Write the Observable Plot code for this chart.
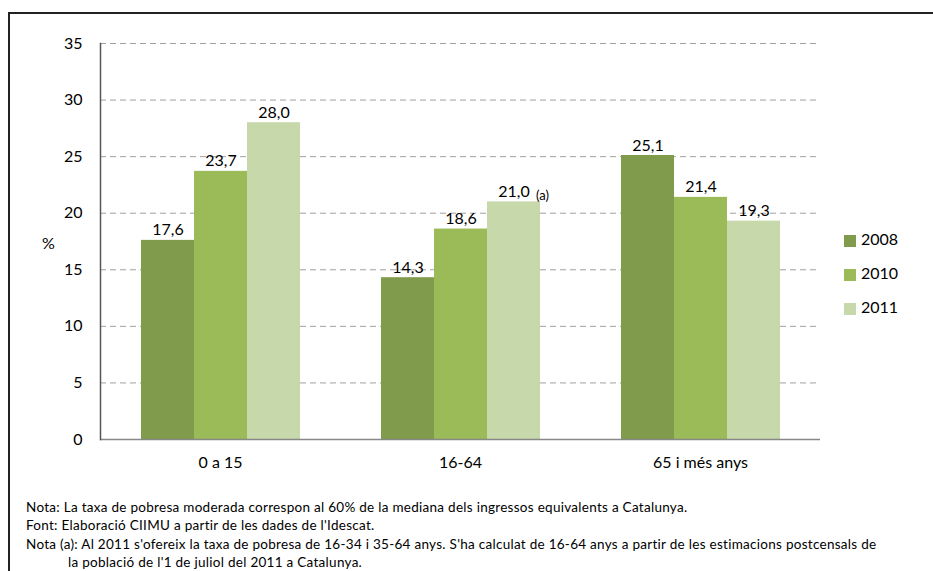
<!DOCTYPE html>
<html><head><meta charset="utf-8">
<script src="https://cdn.jsdelivr.net/npm/d3@7"></script>
<script src="https://cdn.jsdelivr.net/npm/@observablehq/plot@0.6"></script>
<style>
html,body{margin:0;padding:0;background:#fff;overflow:hidden;width:933px;height:571px;font-family:Lato,"Open Sans",sans-serif;}
#frame{position:absolute;left:8px;top:12px;width:1000px;height:700px;border:2px solid #222;box-sizing:border-box;}
#chart{position:absolute;left:0;top:0;}
#ylabel{position:absolute;left:42px;top:233px;font-size:16px;color:#000;}
#legend{position:absolute;left:844px;top:231px;font-size:16px;}
.li{position:relative;height:34px;}
.sw{position:absolute;left:0;top:4px;width:12px;height:12px;}
.lt{position:absolute;left:17px;top:-2px;line-height:20px;}
#notes{position:absolute;left:26px;top:498px;font-size:13.5px;line-height:18.4px;color:#000;letter-spacing:0.28px;white-space:nowrap;}
.ind{padding-left:42px;}
</style></head>
<body>
<div id="frame"></div>
<div id="chart"></div>
<div id="ylabel">%</div>
<div id="legend"></div>
<div id="notes"></div>
<script>
const categories = ["0 a 15", "16-64", "65 i més anys"];
const years = ["2008", "2010", "2011"];
const values2008 = [17.6, 14.3, 25.1];
const values2010 = [23.7, 18.6, 21.4];
const values2011 = [28.0, 21.0, 19.3];
const colors = ["#7f9b4b", "#9bbb59", "#c7d8ab"];
const yTicks = [0, 5, 10, 15, 20, 25, 30, 35];
const footnoteMarks = [{category: "16-64", year: "2011", mark: "(a)"}];
const noteLines = [
  "Nota: La taxa de pobresa moderada correspon al 60% de la mediana dels ingressos equivalents a Catalunya.",
  "Font: Elaboració CIIMU a partir de les dades de l'Idescat.",
  "Nota (a): Al 2011 s'ofereix la taxa de pobresa de 16-34 i 35-64 anys. S'ha calculat de 16-64  anys a partir de les estimacions postcensals de",
  "la població de l'1 de juliol del 2011 a Catalunya."
];

const series = [values2008, values2010, values2011];
const data = [];
categories.forEach((c, i) => years.forEach((y, j) => data.push({category: c, year: y, value: series[j][i]})));
const fmt = v => v.toFixed(1).replace(".", ",");
const fn = footnoteMarks.map(f => ({...f, value: data.find(d => d.category === f.category && d.year === f.year).value}));

const chart = Plot.plot({
  width: 933,
  height: 480,
  marginLeft: 100,
  marginRight: 113,
  marginTop: 43,
  marginBottom: 41,
  style: {fontFamily: "Lato, 'Open Sans', sans-serif", fontSize: "16px", color: "#000", background: "transparent"},
  fx: {domain: categories, padding: 0, label: null, axis: null},
  x: {domain: years, paddingInner: 0, paddingOuter: 0.74, axis: null},
  y: {domain: [0, 35], ticks: yTicks, label: null},
  color: {domain: years, range: colors},
  marks: [
    Plot.gridY(yTicks.filter(t => t > 0), {stroke: "#a0a0a0", strokeOpacity: 1, strokeDasharray: "6,4", strokeWidth: 1}),
    Plot.barY(data, {fx: "category", x: "year", y: "value", fill: "year"}),
    Plot.ruleY([0], {stroke: "#888", strokeWidth: 1.5}),
    Plot.frame({anchor: "left", facetAnchor: "left", stroke: "#555", strokeWidth: 1.5}),
    Plot.axisY({ticks: yTicks, tickSize: 0, tickPadding: 18, fontSize: 16, label: null}),
    Plot.axisFx({domain: categories, anchor: "bottom", tickSize: 0, tickPadding: 17, fontSize: 16, label: null}),
    Plot.text(data, {fx: "category", x: "year", y: "value", text: d => fmt(d.value), lineAnchor: "bottom", dy: -5, fontSize: 16, fill: "#000"}),
    Plot.text(fn, {fx: "category", x: "year", y: "value", text: "mark", textAnchor: "start", lineAnchor: "bottom", dx: 22, dy: -2, fontSize: 13, fill: "#000"})
  ]
});
document.getElementById("chart").appendChild(chart);

const lg = document.getElementById("legend");
years.forEach((y, i) => {
  const row = document.createElement("div");
  row.className = "li";
  row.innerHTML = `<div class="sw" style="background:${colors[i]}"></div><div class="lt">${y}</div>`;
  lg.appendChild(row);
});
const nt = document.getElementById("notes");
noteLines.forEach((l, i) => {
  const d = document.createElement("div");
  if (i === 3) d.className = "ind";
  d.textContent = l;
  nt.appendChild(d);
});
</script>
</body></html>
